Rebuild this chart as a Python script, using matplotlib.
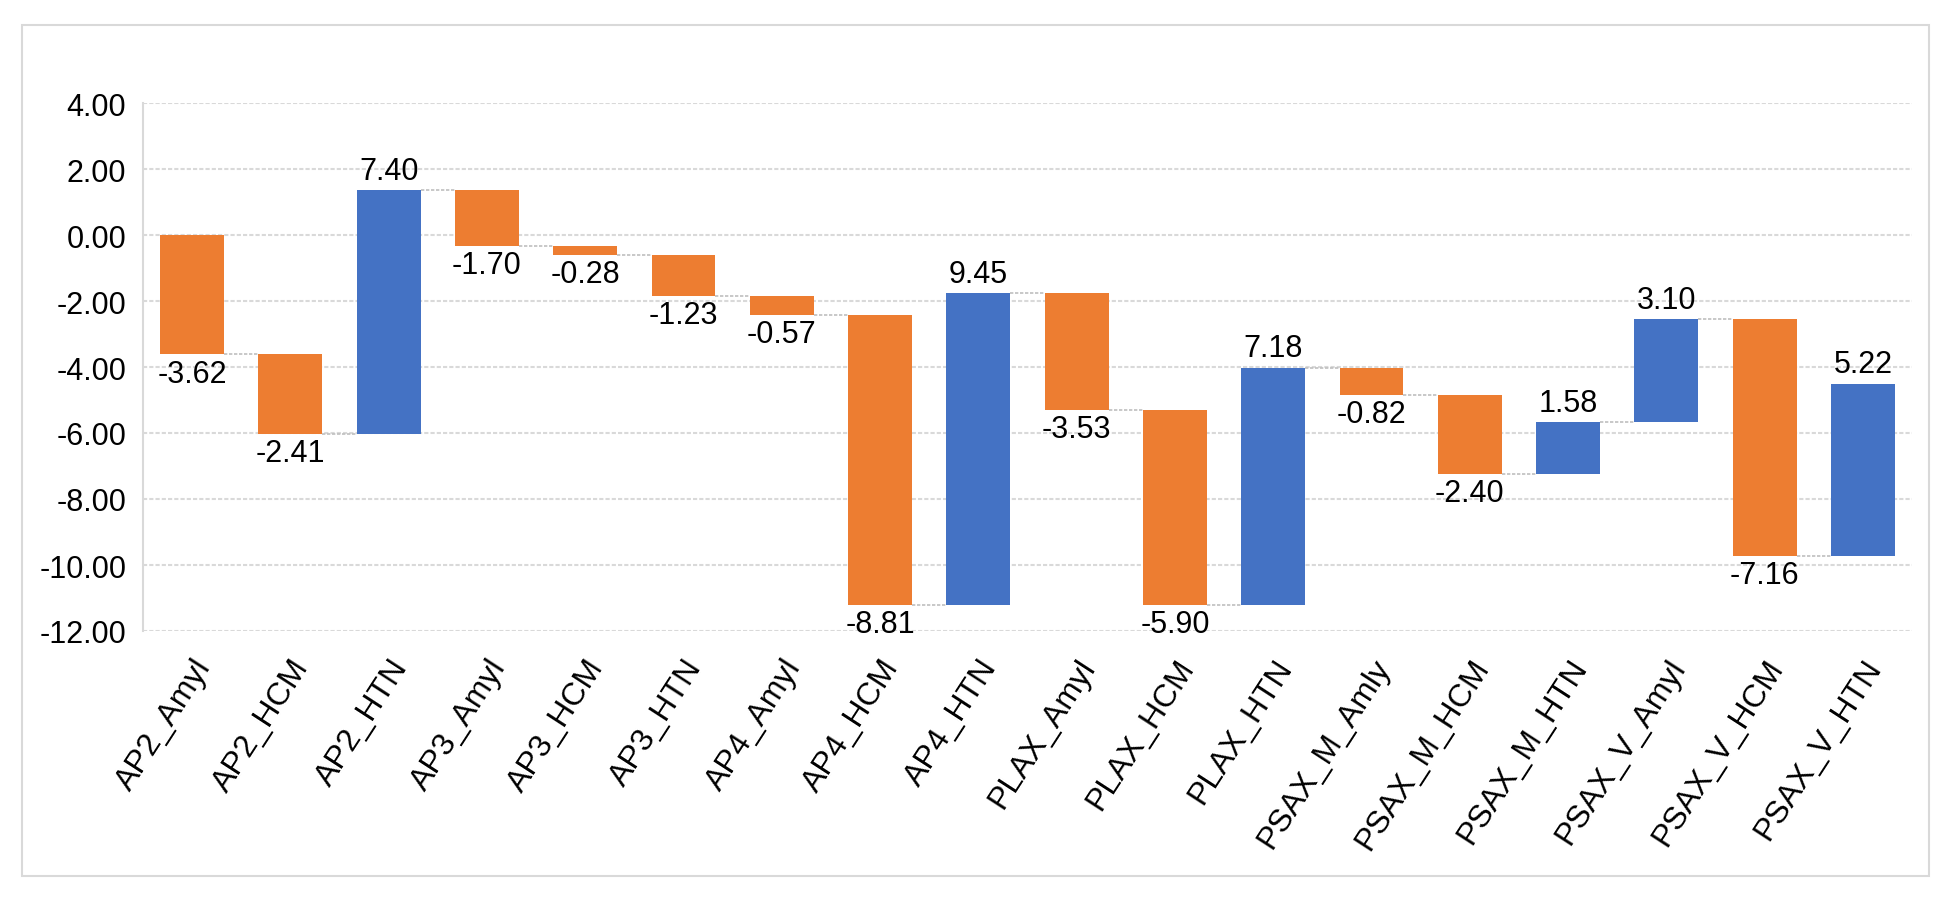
import numpy as np
import matplotlib.pyplot as plt

plt.rcParams['font.family'] = ['Liberation Sans', 'DejaVu Sans']

# Data
categories = ['AP2_Amyl', 'AP2_HCM', 'AP2_HTN', 'AP3_Amyl', 'AP3_HCM', 'AP3_HTN',
              'AP4_Amyl', 'AP4_HCM', 'AP4_HTN', 'PLAX_Amyl', 'PLAX_HCM', 'PLAX_HTN',
              'PSAX_M_Amly', 'PSAX_M_HCM', 'PSAX_M_HTN', 'PSAX_V_Amyl', 'PSAX_V_HCM',
              'PSAX_V_HTN']
changes = [-3.62, -2.41, 7.40, -1.70, -0.28, -1.23, -0.57, -8.81, 9.45,
           -3.53, -5.90, 7.18, -0.82, -2.40, 1.58, 3.10, -7.16, 5.22]
yticks = [4, 2, 0, -2, -4, -6, -8, -10, -12]

orange = '#ED7D31'
blue = '#4472C4'
grid_col = '#D9D9D9'

changes = np.array(changes)
ends = np.cumsum(changes)
starts = ends - changes
x = np.arange(len(categories))
w = 0.65

fig = plt.figure(figsize=(19.5, 9.04), dpi=100)
ax = fig.add_axes([143/1950, 1 - 632/904, (1912-143)/1950, (632-104)/904])

# outer border
fig.patches.append(plt.Rectangle((22/1950, 1 - 877/904), (1929-22)/1950, (877-26)/904,
                                 transform=fig.transFigure, fill=False,
                                 edgecolor=grid_col, linewidth=1.5))

colors = [blue if c > 0 else orange for c in changes]
ax.bar(x, changes, bottom=starts, width=w, color=colors, zorder=3)

# connectors
for i in range(len(x) - 1):
    ax.plot([x[i] + w/2, x[i+1] - w/2], [ends[i], ends[i]], color='#BFBFBF',
            linestyle=(0, (2, 1)), linewidth=1.2, zorder=2)

# labels
for i, c in enumerate(changes):
    if c > 0:
        ax.annotate(f'{c:.2f}', (x[i], ends[i]), xytext=(0, 3), textcoords='offset points',
                    ha='center', va='bottom', fontsize=22, zorder=4)
    else:
        ax.annotate(f'{c:.2f}', (x[i], ends[i]), xytext=(0, -3), textcoords='offset points',
                    ha='center', va='top', fontsize=22, zorder=4)

ax.set_xlim(-0.5, len(x) - 0.5)
ax.set_ylim(-12, 4)
ax.set_yticks(yticks)
ax.set_yticklabels([f'{v:.2f}' for v in yticks], fontsize=22)
ax.set_xticks(x)
ax.set_xticklabels(categories, rotation=57, ha='right', rotation_mode='anchor', fontsize=23)
ax.tick_params(length=0, pad=12)
ax.tick_params(axis='x', pad=16)
ax.yaxis.grid(True, color=grid_col, linestyle=(0, (2, 1)), linewidth=1.5, zorder=0)
for s in ['top', 'right', 'bottom']:
    ax.spines[s].set_visible(False)
ax.spines['left'].set_color(grid_col)
ax.spines['left'].set_linestyle((0, (2, 1)))
ax.spines['left'].set_linewidth(1.5)

fig.savefig('out.png', dpi=100)
